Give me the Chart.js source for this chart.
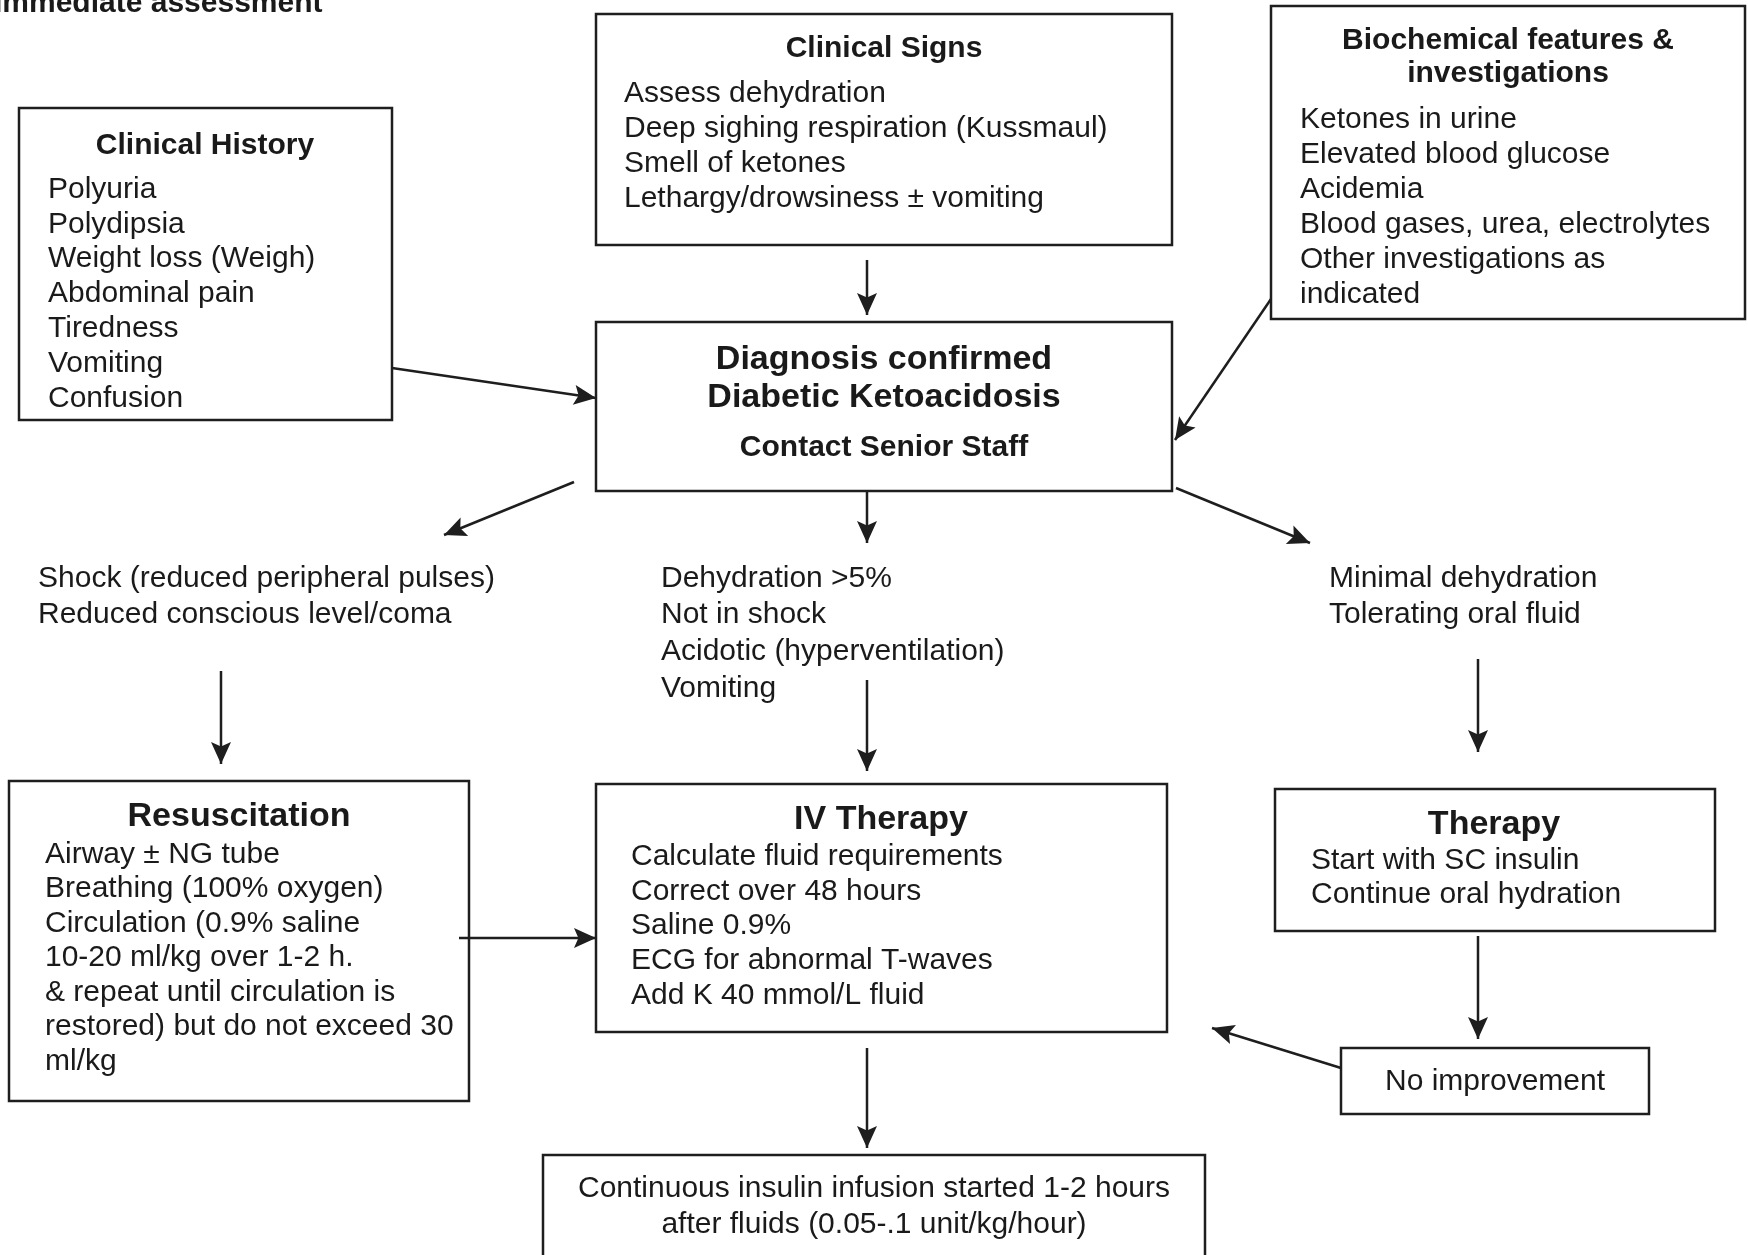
<!DOCTYPE html>
<html>
<head>
<meta charset="utf-8">
<script src="https://cdn.jsdelivr.net/npm/chart.js@4"></script>
<style>
html, body { margin: 0; padding: 0; background: #fff; }
canvas { display: block; }
</style>
</head>
<body>
<canvas id="flow" width="1748" height="1255"></canvas>
<script>
// ---- text content ----
const pageTitle = 'Immediate assessment';
const historyTitle = 'Clinical History';
const historyItems = ['Polyuria', 'Polydipsia', 'Weight loss (Weigh)', 'Abdominal pain', 'Tiredness', 'Vomiting', 'Confusion'];
const signsTitle = 'Clinical Signs';
const signsItems = ['Assess dehydration', 'Deep sighing respiration (Kussmaul)', 'Smell of ketones', 'Lethargy/drowsiness \u00b1 vomiting'];
const biochemTitle = ['Biochemical features &', 'investigations'];
const biochemItems = ['Ketones in urine', 'Elevated blood glucose', 'Acidemia', 'Blood gases, urea, electrolytes', 'Other investigations as', 'indicated'];
const diagnosisLines = ['Diagnosis confirmed', 'Diabetic Ketoacidosis'];
const diagnosisNote = 'Contact Senior Staff';
const shockItems = ['Shock (reduced peripheral pulses)', 'Reduced conscious level/coma'];
const dehydrationItems = ['Dehydration >5%', 'Not in shock', 'Acidotic (hyperventilation)', 'Vomiting'];
const minimalItems = ['Minimal dehydration', 'Tolerating oral fluid'];
const resusTitle = 'Resuscitation';
const resusItems = ['Airway \u00b1 NG tube', 'Breathing (100% oxygen)', 'Circulation (0.9% saline', '10-20 ml/kg over 1-2 h.', '& repeat until circulation is', 'restored) but do not exceed 30', 'ml/kg'];
const ivTitle = 'IV Therapy';
const ivItems = ['Calculate fluid requirements', 'Correct over 48 hours', 'Saline 0.9%', 'ECG for abnormal T-waves', 'Add K 40 mmol/L fluid'];
const therapyTitle = 'Therapy';
const therapyItems = ['Start with SC insulin', 'Continue oral hydration'];
const noImprovement = 'No improvement';
const insulinLines = ['Continuous insulin infusion started 1-2 hours', 'after fluids (0.05-.1 unit/kg/hour)'];

// ---- layout (page units, y grows downward) ----
const boxes = [
  [19, 108, 392, 420],     // clinical history
  [596, 14, 1172, 245],    // clinical signs
  [1271, 6, 1745, 319],    // biochemical
  [596, 322, 1172, 491],   // diagnosis
  [9, 781, 469, 1101],     // resuscitation
  [596, 784, 1167, 1032],  // iv therapy
  [1275, 789, 1715, 931],  // therapy
  [1341, 1048, 1649, 1114],// no improvement
  [543, 1155, 1205, 1300]  // insulin (runs off the page)
];

const arrows = [
  [867, 260, 867, 315],
  [392, 368, 596, 398],
  [1271, 299, 1175, 440],
  [574, 482, 444, 535],
  [867, 491, 867, 543],
  [1176, 488, 1310, 543],
  [221, 671, 221, 764],
  [867, 680, 867, 771],
  [1478, 659, 1478, 752],
  [459, 938, 596, 938],
  [1478, 936, 1478, 1039],
  [1341, 1068, 1212, 1028],
  [867, 1048, 867, 1148]
];

const FONT = '"Liberation Sans", Arial, sans-serif';
const reg = '30px ' + FONT;
const bold30 = 'bold 30px ' + FONT;
const bold34 = 'bold 34px ' + FONT;
const TEXT_SHIFT = 2.5;

const blocks = [
  { lines: [pageTitle], x: -6, y: 1, step: 0, font: bold30, align: 'left' },
  { lines: [historyTitle], x: 205, y: 143, step: 0, font: bold30, align: 'center' },
  { lines: historyItems, x: 48, y: 187, step: 34.8, font: reg, align: 'left' },
  { lines: [signsTitle], x: 884, y: 46, step: 0, font: bold30, align: 'center' },
  { lines: signsItems, x: 624, y: 91, step: 35, font: reg, align: 'left' },
  { lines: biochemTitle, x: 1508, y: 38, step: 33, font: bold30, align: 'center' },
  { lines: biochemItems, x: 1300, y: 117, step: 35, font: reg, align: 'left' },
  { lines: diagnosisLines, x: 884, y: 357, step: 38, font: bold34, align: 'center' },
  { lines: [diagnosisNote], x: 884, y: 445, step: 0, font: bold30, align: 'center' },
  { lines: shockItems, x: 38, y: 576, step: 36, font: reg, align: 'left' },
  { lines: dehydrationItems, x: 661, y: 576, step: 36.7, font: reg, align: 'left' },
  { lines: minimalItems, x: 1329, y: 576, step: 36, font: reg, align: 'left' },
  { lines: [resusTitle], x: 239, y: 814, step: 0, font: bold34, align: 'center' },
  { lines: resusItems, x: 45, y: 852, step: 34.5, font: reg, align: 'left' },
  { lines: [ivTitle], x: 881, y: 817, step: 0, font: bold34, align: 'center' },
  { lines: ivItems, x: 631, y: 854, step: 34.75, font: reg, align: 'left' },
  { lines: [therapyTitle], x: 1494, y: 822, step: 0, font: bold34, align: 'center' },
  { lines: therapyItems, x: 1311, y: 858, step: 34, font: reg, align: 'left' },
  { lines: [noImprovement], x: 1495, y: 1079, step: 0, font: reg, align: 'center' },
  { lines: insulinLines, x: 874, y: 1186, step: 36, font: reg, align: 'center' }
];

const INK = '#1e1e1e';

function lineSet(points) {
  return {
    data: points.map(p => ({ x: p[0], y: p[1] })),
    showLine: true,
    borderColor: INK,
    borderWidth: 2.5,
    borderCapStyle: 'square',
    borderJoinStyle: 'miter',
    pointRadius: 0,
    tension: 0,
    fill: false
  };
}

const datasets = [];
boxes.forEach(b => {
  datasets.push(lineSet([[b[0], b[1]], [b[2], b[1]], [b[2], b[3]], [b[0], b[3]], [b[0], b[1]]]));
});
arrows.forEach(a => {
  const s = lineSet([[a[0], a[1]], [a[2], a[3]]]);
  s.borderCapStyle = 'butt';
  datasets.push(s);
});

const flowPlugin = {
  id: 'flowText',
  afterDatasetsDraw(chart) {
    const ctx = chart.ctx;
    const sx = chart.scales.x, sy = chart.scales.y;
    ctx.save();
    // arrowheads
    ctx.fillStyle = INK;
    arrows.forEach(a => {
      const x1 = sx.getPixelForValue(a[0]), y1 = sy.getPixelForValue(a[1]);
      const x2 = sx.getPixelForValue(a[2]), y2 = sy.getPixelForValue(a[3]);
      const ang = Math.atan2(y2 - y1, x2 - x1);
      const len = 22, half = 10;
      const c = Math.cos(ang), s = Math.sin(ang);
      ctx.beginPath();
      ctx.moveTo(x2, y2);
      ctx.lineTo(x2 - len * c + half * s, y2 - len * s - half * c);
      ctx.lineTo(x2 - len * 0.8 * c, y2 - len * 0.8 * s);
      ctx.lineTo(x2 - len * c - half * s, y2 - len * s + half * c);
      ctx.closePath();
      ctx.fill();
    });
    // text
    ctx.fillStyle = '#1a1a1a';
    ctx.textBaseline = 'middle';
    blocks.forEach(bl => {
      ctx.font = bl.font;
      ctx.textAlign = bl.align;
      bl.lines.forEach((t, i) => {
        ctx.fillText(t, sx.getPixelForValue(bl.x), sy.getPixelForValue(bl.y + TEXT_SHIFT + i * bl.step));
      });
    });
    ctx.restore();
  }
};

new Chart(document.getElementById('flow').getContext('2d'), {
  type: 'scatter',
  data: { datasets: datasets },
  options: {
    responsive: false,
    devicePixelRatio: 1,
    animation: false,
    events: [],
    layout: { padding: 0 },
    scales: {
      x: { type: 'linear', min: 0, max: 1748, display: false },
      y: { type: 'linear', min: 0, max: 1255, reverse: true, display: false }
    },
    plugins: {
      legend: { display: false },
      tooltip: { enabled: false }
    }
  },
  plugins: [flowPlugin]
});
</script>
</body>
</html>
